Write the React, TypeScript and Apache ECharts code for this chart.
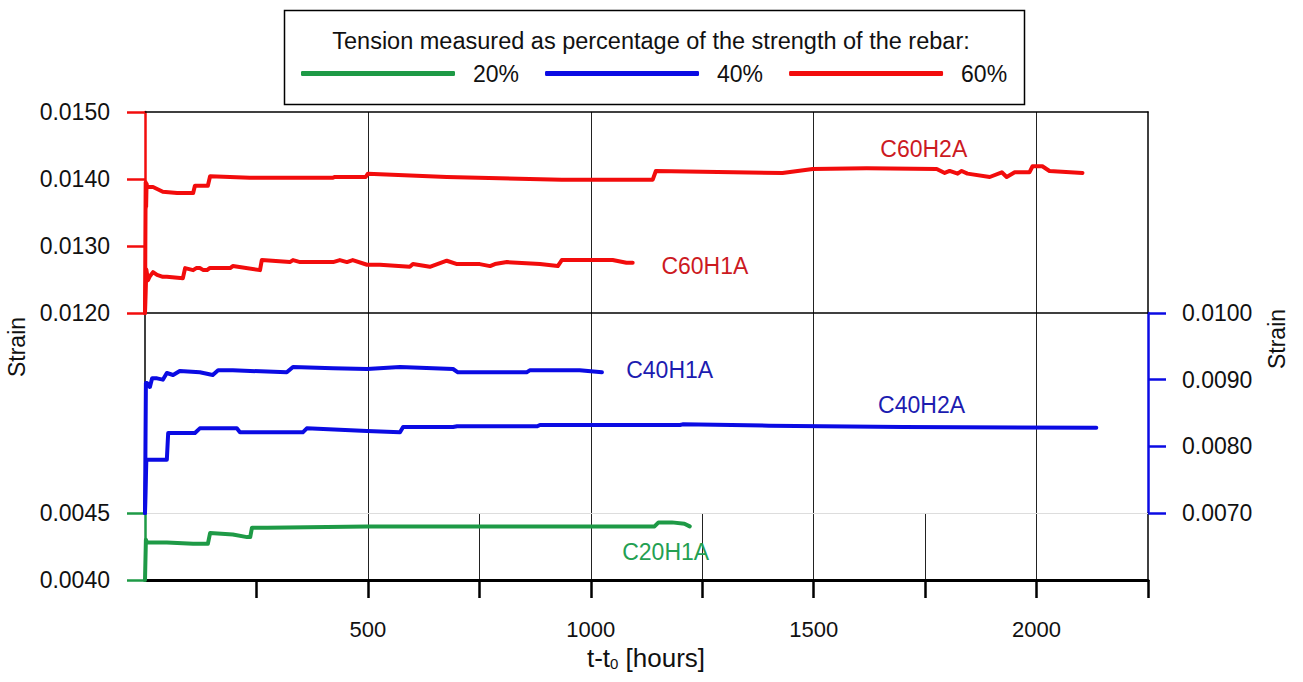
import React, { useEffect, useRef } from "react";
import * as echarts from "echarts";

const FONT = '"Liberation Sans", Arial, Helvetica, sans-serif';

const RED = "#f20c0c";
const BLUE = "#0b0be3";
const GREEN = "#1e9a46";
const RED_TEXT = "#cc1a1f";
const BLUE_TEXT = "#1c1cb0";
const GREEN_TEXT = "#23a052";

// x axis: hours since loading
const xTickHours = [250, 500, 750, 1000, 1250, 1500, 1750, 2000, 2250];
const xLabelHours = [500, 1000, 1500, 2000];

const legendNames = ["20%", "40%", "60%"];

// C60H2A – 60 % of rebar strength
const c60h2aHours = [
  0, 1.5, 2.5, 3.5, 5, 18, 40, 72, 108, 112, 141, 146, 235, 422, 426, 495, 500,
  677, 935, 1139, 1146, 1430, 1498, 1619, 1776, 1794, 1805, 1823, 1832, 1845,
  1895, 1922, 1933, 1951, 1984, 1991, 2013, 2029, 2103,
];
const c60h2aStrain = [
  0.012, 0.01395, 0.01358, 0.01393, 0.01388, 0.01388, 0.01381, 0.01379,
  0.01379, 0.0139, 0.0139, 0.01404, 0.01402, 0.01402, 0.01403, 0.01403,
  0.01408, 0.01403, 0.01399, 0.01399, 0.01412, 0.01409, 0.01415, 0.01416,
  0.01415, 0.01409, 0.01412, 0.01408, 0.01412, 0.01408, 0.01403, 0.0141,
  0.01403, 0.0141, 0.0141, 0.01419, 0.01419, 0.01412, 0.01409,
];

// C60H1A – 60 % of rebar strength
const c60h1aHours = [
  0, 3, 6.7, 11, 18, 27, 40, 49, 85, 90, 108, 115, 123, 131, 139, 145, 152,
  191, 197, 258, 262, 325, 332, 348, 422, 437, 453, 466, 498, 527, 594, 601,
  639, 677, 700, 751, 774, 785, 812, 886, 926, 935, 1049, 1080, 1094,
];
const c60h1aStrain = [
  0.012, 0.01265, 0.01249, 0.01255, 0.01261, 0.01257, 0.01254, 0.01254,
  0.01252, 0.01267, 0.01264, 0.01267, 0.01267, 0.01264, 0.01264, 0.01267,
  0.01267, 0.01267, 0.0127, 0.01264, 0.01279, 0.01276, 0.01279, 0.01276,
  0.01276, 0.01279, 0.01276, 0.01279, 0.01272, 0.01272, 0.01269, 0.01273,
  0.01269, 0.01278, 0.01273, 0.01273, 0.0127, 0.01273, 0.01276, 0.01273,
  0.0127, 0.01279, 0.01279, 0.01275, 0.01275,
];

// C40H1A – 40 % of rebar strength
const c40h1aHours = [
  0, 2, 4.5, 11, 16, 27, 40, 49, 63, 78, 123, 152, 164, 197, 318, 332, 422,
  498, 572, 691, 702, 856, 863, 975, 1025,
];
const c40h1aStrain = [
  0.007, 0.00895, 0.00895, 0.00889, 0.00902, 0.00902, 0.009, 0.0091, 0.00907,
  0.00913, 0.00911, 0.00907, 0.00914, 0.00914, 0.00911, 0.00919, 0.00917,
  0.00916, 0.00919, 0.00916, 0.00911, 0.00911, 0.00914, 0.00914, 0.00911,
];

// C40H2A – 40 % of rebar strength
const c40h2aHours = [
  0, 3, 49, 52, 112, 123, 206, 213, 354, 363, 498, 572, 579, 691, 700, 880,
  886, 1200, 1206, 1400, 1700, 2134,
];
const c40h2aStrain = [
  0.007, 0.0078, 0.0078, 0.0082, 0.0082, 0.00827, 0.00827, 0.00821, 0.00821,
  0.00827, 0.00823, 0.00821, 0.00829, 0.00829, 0.0083, 0.0083, 0.00832,
  0.00832, 0.00833, 0.00831, 0.00829, 0.00828,
];

// C20H1A – 20 % of rebar strength
const c20h1aHours = [
  0, 2, 4.5, 11, 49, 108, 141, 146, 197, 229, 236, 240, 274, 498, 505, 874,
  1000, 1143, 1152, 1182, 1210, 1222,
];
const c20h1aStrain = [
  0.004, 0.0043, 0.00428, 0.00428, 0.00428, 0.00427, 0.00427, 0.00435,
  0.00434, 0.00432, 0.00432, 0.00439, 0.00439, 0.0044, 0.0044, 0.0044,
  0.0044, 0.0044, 0.00443, 0.00443, 0.00442, 0.0044,
];

const pairs = (h: number[], s: number[]) => h.map((t, i) => [t, s[i]]);

const fmt4 = (v: number) => v.toFixed(4);

function buildOption(): echarts.EChartsOption {
  const grids = [
    { left: 145, top: 112, width: 1003, height: 201 },
    { left: 145, top: 313, width: 1003, height: 200 },
    { left: 145, top: 513, width: 1003, height: 67 },
  ];

  const vGrid = {
    show: true,
    showMinLine: false,
    showMaxLine: false,
    lineStyle: { color: "#222", width: 1 },
  };

  const frameX = (gridIndex: number, position: "top" | "bottom", color: string, width: number) => ({
    type: "value" as const,
    gridIndex,
    position,
    min: 0,
    max: 2250,
    interval: 500,
    axisLine: { show: true, onZero: false, lineStyle: { color, width } },
    axisTick: { show: false },
    axisLabel: { show: false },
    splitLine: { show: false },
  });

  const xAxis: any[] = [
    { ...frameX(0, "top", "#000", 1.5), splitLine: vGrid },
    { ...frameX(1, "top", "#000", 1.5), splitLine: vGrid },
    {
      ...frameX(2, "bottom", "#000", 3),
      splitLine: vGrid,
      axisTick: {
        show: true,
        customValues: xTickHours,
        length: 18,
        lineStyle: { color: "#000", width: 2.5 },
      },
      axisLabel: {
        show: true,
        customValues: xLabelHours,
        formatter: (v: number) => String(v),
        fontSize: 22,
        fontFamily: FONT,
        color: "#111",
        margin: 38,
      },
    },
    frameX(2, "top", "#dddddd", 1),
  ];

  const strainAxis = (
    gridIndex: number,
    position: "left" | "right",
    min: number,
    max: number,
    interval: number,
    color: string,
    withLabels: boolean,
    lineWidth: number
  ) => ({
    type: "value" as const,
    gridIndex,
    position,
    min,
    max,
    interval,
    axisLine: { show: true, onZero: false, lineStyle: { color, width: lineWidth } },
    axisTick: {
      show: withLabels,
      length: 18,
      lineStyle: { color, width: 2.5 },
    },
    axisLabel: {
      show: withLabels,
      formatter: fmt4,
      fontSize: 23,
      fontFamily: FONT,
      color: "#111",
      margin: position === "left" ? 35 : 34,
    },
    splitLine: { show: false },
  });

  const yAxis: any[] = [
    strainAxis(0, "left", 0.012, 0.015, 0.001, RED, true, 2.5),
    strainAxis(0, "right", 0.012, 0.015, 0.001, "#000", false, 1.5),
    strainAxis(1, "right", 0.007, 0.01, 0.001, BLUE, true, 2.5),
    strainAxis(1, "left", 0.007, 0.01, 0.001, "#000", false, 1.5),
    strainAxis(2, "left", 0.004, 0.0045, 0.0005, GREEN, true, 2.5),
    strainAxis(2, "right", 0.004, 0.0045, 0.0005, "#000", false, 1.5),
  ];

  const line = (
    name: string,
    label: string,
    data: number[][],
    color: string,
    textColor: string,
    xAxisIndex: number,
    yAxisIndex: number,
    labelAt: number[]
  ) => ({
    type: "line" as const,
    name,
    data,
    xAxisIndex,
    yAxisIndex,
    showSymbol: false,
    symbol: "none",
    color,
    itemStyle: { color },
    lineStyle: { color, width: 4, cap: "round", join: "round" },
    markPoint: {
      silent: true,
      symbol: "rect",
      symbolSize: 1,
      itemStyle: { color: "rgba(0,0,0,0)" },
      label: {
        show: true,
        position: "inside",
        formatter: label,
        color: textColor,
        fontSize: 23,
        fontFamily: FONT,
      },
      data: [{ coord: labelAt }],
    },
  });

  const series: any[] = [
    line("60%", "C60H2A", pairs(c60h2aHours, c60h2aStrain), RED, RED_TEXT, 0, 0, [1747, 0.014448]),
    line("60%", "C60H1A", pairs(c60h1aHours, c60h1aStrain), RED, RED_TEXT, 0, 0, [1256, 0.012701]),
    line("40%", "C40H1A", pairs(c40h1aHours, c40h1aStrain), BLUE, BLUE_TEXT, 1, 2, [1177, 0.009145]),
    line("40%", "C40H2A", pairs(c40h2aHours, c40h2aStrain), BLUE, BLUE_TEXT, 1, 2, [1742, 0.00862]),
    line("20%", "C20H1A", pairs(c20h1aHours, c20h1aStrain), GREEN, GREEN_TEXT, 2, 4, [1168, 0.004209]),
  ];

  return {
    animation: false,
    backgroundColor: "#fff",
    textStyle: { fontFamily: FONT },
    grid: grids,
    xAxis,
    yAxis,
    series,
    legend: {
      data: legendNames,
      left: 301,
      top: 62,
      padding: 0,
      icon: "roundRect",
      itemWidth: 154,
      itemHeight: 5,
      itemGap: 26,
      selectedMode: false,
      textStyle: {
        fontSize: 23,
        fontFamily: FONT,
        color: "#111",
        padding: [0, 0, 0, 13],
      },
    },
    graphic: [
      {
        type: "rect",
        shape: { x: 284.5, y: 10.5, width: 740, height: 94 },
        style: { fill: "none", stroke: "#000", lineWidth: 1.5 },
        silent: true,
      },
      {
        type: "text",
        x: 651,
        y: 41,
        style: {
          text: "Tension measured as percentage of the strength of the rebar:",
          fontSize: 23.5,
          fontFamily: FONT,
          fill: "#111",
          align: "center",
          verticalAlign: "middle",
        },
        silent: true,
      },
      {
        type: "text",
        x: 17,
        y: 347,
        rotation: Math.PI / 2,
        style: {
          text: "Strain",
          fontSize: 23,
          fontFamily: FONT,
          fill: "#111",
          align: "center",
          verticalAlign: "middle",
        },
        silent: true,
      },
      {
        type: "text",
        x: 1277,
        y: 339,
        rotation: Math.PI / 2,
        style: {
          text: "Strain",
          fontSize: 23,
          fontFamily: FONT,
          fill: "#111",
          align: "center",
          verticalAlign: "middle",
        },
        silent: true,
      },
      {
        type: "text",
        x: 646,
        y: 658,
        style: {
          text: "t-t{s|0} [hours]",
          fontSize: 26,
          fontFamily: FONT,
          fill: "#111",
          align: "center",
          verticalAlign: "middle",
          rich: {
            s: {
              fontSize: 15,
              fontFamily: FONT,
              fill: "#111",
              lineHeight: 14,
              verticalAlign: "bottom",
            },
          },
        },
        silent: true,
      },
    ],
  } as any;
}

export default function App() {
  const ref = useRef<HTMLDivElement>(null);

  useEffect(() => {
    if (!ref.current) return;
    const chart = echarts.init(ref.current, undefined, { renderer: "svg" });
    chart.setOption(buildOption());
    return () => chart.dispose();
  }, []);

  return (
    <div
      ref={ref}
      style={{ position: "absolute", left: 0, top: 0, width: 1303, height: 682, background: "#fff" }}
    />
  );
}
